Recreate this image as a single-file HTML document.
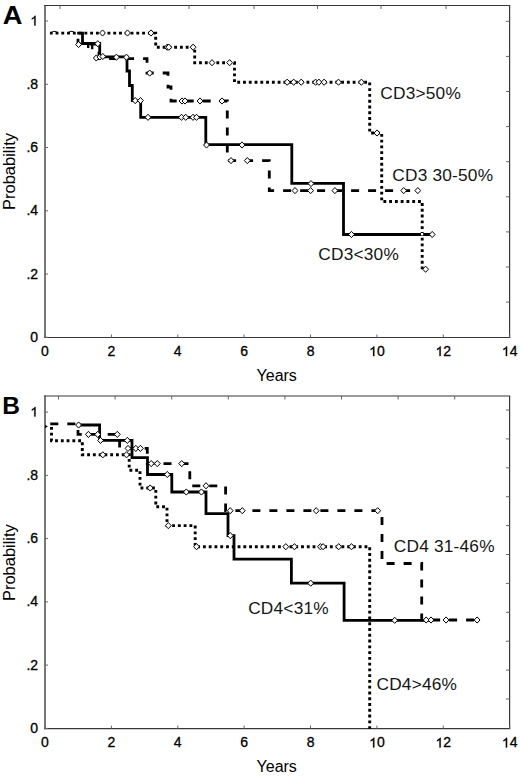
<!DOCTYPE html>
<html><head><meta charset="utf-8"><style>
html,body{margin:0;padding:0;background:#fff;width:520px;height:778px;overflow:hidden}
svg{display:block}
</style></head><body>
<svg width="520" height="778" viewBox="0 0 520 778">
<style>
.ax{fill:none;stroke:#383838;stroke-width:1.2}
.axl{fill:none;stroke:#303030;stroke-width:1.3}
.tk{stroke:#666;stroke-width:1}
.tl{font-family:"Liberation Sans",sans-serif;font-size:14px;fill:#000;stroke:#000;stroke-width:0.3}
.al{font-family:"Liberation Sans",sans-serif;font-size:16px;fill:#000}
.lb{font-family:"Liberation Sans",sans-serif;font-size:17.3px;fill:#151515;letter-spacing:0.2px}
.pl{font-family:"Liberation Sans",sans-serif;font-size:26px;font-weight:bold;fill:#000}
.sol{fill:none;stroke:#000;stroke-width:2.8;stroke-linejoin:miter;stroke-linecap:square}
.dsh{fill:none;stroke:#000;stroke-width:2.8;stroke-dasharray:8 9}
.dot{fill:none;stroke:#000;stroke-width:2.9;stroke-dasharray:2.85 2.92}
.cir path{fill:#fff;stroke:#000;stroke-width:1}
</style>
<rect width="520" height="778" fill="#fff"/>
<line x1="45" y1="4.9" x2="45" y2="338.1" class="axl"/><line x1="44.4" y1="5.5" x2="510.2" y2="5.5" class="ax"/><line x1="44.4" y1="337.5" x2="510.2" y2="337.5" class="ax"/><line x1="509.6" y1="5.5" x2="509.6" y2="337.5" class="ax"/><line x1="45" y1="337.3" x2="48" y2="337.3" class="tk"/><line x1="45" y1="274.0" x2="48" y2="274.0" class="tk"/><line x1="45" y1="210.8" x2="48" y2="210.8" class="tk"/><line x1="45" y1="147.5" x2="48" y2="147.5" class="tk"/><line x1="45" y1="84.3" x2="48" y2="84.3" class="tk"/><line x1="45" y1="21.0" x2="48" y2="21.0" class="tk"/><line x1="45.0" y1="337.5" x2="45.0" y2="334.5" class="tk"/><line x1="111.4" y1="337.5" x2="111.4" y2="334.5" class="tk"/><line x1="177.8" y1="337.5" x2="177.8" y2="334.5" class="tk"/><line x1="244.1" y1="337.5" x2="244.1" y2="334.5" class="tk"/><line x1="310.5" y1="337.5" x2="310.5" y2="334.5" class="tk"/><line x1="376.9" y1="337.5" x2="376.9" y2="334.5" class="tk"/><line x1="443.3" y1="337.5" x2="443.3" y2="334.5" class="tk"/><line x1="509.7" y1="337.5" x2="509.7" y2="334.5" class="tk"/><line x1="60.0" y1="5.5" x2="60.0" y2="9.0" class="tk"/><line x1="125.0" y1="5.5" x2="125.0" y2="9.0" class="tk"/><line x1="189.0" y1="5.5" x2="189.0" y2="9.0" class="tk"/><line x1="254.0" y1="5.5" x2="254.0" y2="9.0" class="tk"/><line x1="317.5" y1="5.5" x2="317.5" y2="9.0" class="tk"/><line x1="381.0" y1="5.5" x2="381.0" y2="9.0" class="tk"/><line x1="446.0" y1="5.5" x2="446.0" y2="9.0" class="tk"/><line x1="509.5" y1="21.3" x2="506" y2="21.3" class="tk"/><line x1="509.5" y1="56.4" x2="506" y2="56.4" class="tk"/><line x1="509.5" y1="91.5" x2="506" y2="91.5" class="tk"/><line x1="509.5" y1="126.6" x2="506" y2="126.6" class="tk"/><line x1="509.5" y1="161.7" x2="506" y2="161.7" class="tk"/><line x1="509.5" y1="196.8" x2="506" y2="196.8" class="tk"/><line x1="509.5" y1="231.9" x2="506" y2="231.9" class="tk"/><line x1="509.5" y1="267.0" x2="506" y2="267.0" class="tk"/><line x1="509.5" y1="302.1" x2="506" y2="302.1" class="tk"/>
<line x1="45" y1="395.4" x2="45" y2="729.2" class="axl"/><line x1="44.4" y1="396.0" x2="510.2" y2="396.0" class="ax"/><line x1="44.4" y1="728.6" x2="510.2" y2="728.6" class="ax"/><line x1="509.6" y1="396.0" x2="509.6" y2="728.6" class="ax"/><line x1="45" y1="728.4" x2="48" y2="728.4" class="tk"/><line x1="45" y1="665.1" x2="48" y2="665.1" class="tk"/><line x1="45" y1="601.9" x2="48" y2="601.9" class="tk"/><line x1="45" y1="538.6" x2="48" y2="538.6" class="tk"/><line x1="45" y1="475.4" x2="48" y2="475.4" class="tk"/><line x1="45" y1="412.1" x2="48" y2="412.1" class="tk"/><line x1="45.0" y1="728.6" x2="45.0" y2="725.6" class="tk"/><line x1="111.4" y1="728.6" x2="111.4" y2="725.6" class="tk"/><line x1="177.8" y1="728.6" x2="177.8" y2="725.6" class="tk"/><line x1="244.1" y1="728.6" x2="244.1" y2="725.6" class="tk"/><line x1="310.5" y1="728.6" x2="310.5" y2="725.6" class="tk"/><line x1="376.9" y1="728.6" x2="376.9" y2="725.6" class="tk"/><line x1="443.3" y1="728.6" x2="443.3" y2="725.6" class="tk"/><line x1="509.7" y1="728.6" x2="509.7" y2="725.6" class="tk"/><line x1="58.5" y1="396.0" x2="58.5" y2="399.5" class="tk"/><line x1="115.1" y1="396.0" x2="115.1" y2="399.5" class="tk"/><line x1="171.7" y1="396.0" x2="171.7" y2="399.5" class="tk"/><line x1="228.3" y1="396.0" x2="228.3" y2="399.5" class="tk"/><line x1="284.9" y1="396.0" x2="284.9" y2="399.5" class="tk"/><line x1="341.5" y1="396.0" x2="341.5" y2="399.5" class="tk"/><line x1="398.1" y1="396.0" x2="398.1" y2="399.5" class="tk"/><line x1="454.7" y1="396.0" x2="454.7" y2="399.5" class="tk"/><line x1="509.5" y1="410.0" x2="506" y2="410.0" class="tk"/><line x1="509.5" y1="438.9" x2="506" y2="438.9" class="tk"/><line x1="509.5" y1="467.8" x2="506" y2="467.8" class="tk"/><line x1="509.5" y1="496.7" x2="506" y2="496.7" class="tk"/><line x1="509.5" y1="525.6" x2="506" y2="525.6" class="tk"/><line x1="509.5" y1="554.5" x2="506" y2="554.5" class="tk"/><line x1="509.5" y1="583.4" x2="506" y2="583.4" class="tk"/><line x1="509.5" y1="612.3" x2="506" y2="612.3" class="tk"/><line x1="509.5" y1="641.2" x2="506" y2="641.2" class="tk"/><line x1="509.5" y1="670.1" x2="506" y2="670.1" class="tk"/><line x1="509.5" y1="699.0" x2="506" y2="699.0" class="tk"/>
<text x="30.31" y="341.80" class="tl">0</text><text x="26.42" y="278.54" class="tl">.2</text><text x="26.42" y="215.28" class="tl">.4</text><text x="26.42" y="152.02" class="tl">.6</text><text x="26.42" y="88.76" class="tl">.8</text><text x="30.31" y="25.50" class="tl"> </text><path d="M763,0L583,0L583,1098Q518,1038 412,979Q306,920 222,890L222,1057Q373,1124 486,1221Q599,1318 646,1409L763,1409Z" stroke="#000" stroke-width="44" transform="translate(30.31,25.50) scale(0.00684,-0.00684)"/><text x="41.11" y="356.10" class="tl">0</text><text x="107.49" y="356.10" class="tl">2</text><text x="173.87" y="356.10" class="tl">4</text><text x="240.25" y="356.10" class="tl">6</text><text x="306.63" y="356.10" class="tl">8</text><text x="369.11" y="356.10" class="tl"> 0</text><path d="M763,0L583,0L583,1098Q518,1038 412,979Q306,920 222,890L222,1057Q373,1124 486,1221Q599,1318 646,1409L763,1409Z" stroke="#000" stroke-width="44" transform="translate(369.11,356.10) scale(0.00684,-0.00684)"/><text x="435.49" y="356.10" class="tl"> 2</text><path d="M763,0L583,0L583,1098Q518,1038 412,979Q306,920 222,890L222,1057Q373,1124 486,1221Q599,1318 646,1409L763,1409Z" stroke="#000" stroke-width="44" transform="translate(435.49,356.10) scale(0.00684,-0.00684)"/><text x="501.87" y="356.10" class="tl"> 4</text><path d="M763,0L583,0L583,1098Q518,1038 412,979Q306,920 222,890L222,1057Q373,1124 486,1221Q599,1318 646,1409L763,1409Z" stroke="#000" stroke-width="44" transform="translate(501.87,356.10) scale(0.00684,-0.00684)"/><text x="276.7" y="380.8" text-anchor="middle" class="al">Years</text><text transform="translate(14.8,171.5) rotate(-90) scale(1.03,1)" x="0" y="0" text-anchor="middle" class="al">Probability</text>
<text x="30.31" y="732.90" class="tl">0</text><text x="26.42" y="669.64" class="tl">.2</text><text x="26.42" y="606.38" class="tl">.4</text><text x="26.42" y="543.12" class="tl">.6</text><text x="26.42" y="479.86" class="tl">.8</text><text x="30.31" y="416.60" class="tl"> </text><path d="M763,0L583,0L583,1098Q518,1038 412,979Q306,920 222,890L222,1057Q373,1124 486,1221Q599,1318 646,1409L763,1409Z" stroke="#000" stroke-width="44" transform="translate(30.31,416.60) scale(0.00684,-0.00684)"/><text x="41.11" y="747.40" class="tl">0</text><text x="107.49" y="747.40" class="tl">2</text><text x="173.87" y="747.40" class="tl">4</text><text x="240.25" y="747.40" class="tl">6</text><text x="306.63" y="747.40" class="tl">8</text><text x="369.11" y="747.40" class="tl"> 0</text><path d="M763,0L583,0L583,1098Q518,1038 412,979Q306,920 222,890L222,1057Q373,1124 486,1221Q599,1318 646,1409L763,1409Z" stroke="#000" stroke-width="44" transform="translate(369.11,747.40) scale(0.00684,-0.00684)"/><text x="435.49" y="747.40" class="tl"> 2</text><path d="M763,0L583,0L583,1098Q518,1038 412,979Q306,920 222,890L222,1057Q373,1124 486,1221Q599,1318 646,1409L763,1409Z" stroke="#000" stroke-width="44" transform="translate(435.49,747.40) scale(0.00684,-0.00684)"/><text x="501.87" y="747.40" class="tl"> 4</text><path d="M763,0L583,0L583,1098Q518,1038 412,979Q306,920 222,890L222,1057Q373,1124 486,1221Q599,1318 646,1409L763,1409Z" stroke="#000" stroke-width="44" transform="translate(501.87,747.40) scale(0.00684,-0.00684)"/><text x="276.7" y="772.1" text-anchor="middle" class="al">Years</text><text transform="translate(14.8,562.6) rotate(-90) scale(1.03,1)" x="0" y="0" text-anchor="middle" class="al">Probability</text>
<text x="0" y="0" class="pl" style="font-size:25.5px" transform="translate(2.8,23.6) scale(1.07,1)">A</text>
<text x="0" y="0" class="pl" style="font-size:24.5px" transform="translate(2.2,413.8) scale(1.0,1)">B</text>
<polyline points="50.0,33.1 155.7,33.1 155.7,47.2 194.7,47.2 194.7,62.7 234.5,62.7 234.5,82.2 369.7,82.2 369.7,133.0 381.7,133.0 381.7,201.5 422.2,201.5 422.2,269.2" class="dot" stroke-dashoffset="0.2"/>
<polyline points="78.0,36.0 78.0,44.0 99.0,44.0 99.0,58.6 147.0,58.6 147.0,73.0 168.0,73.0 168.0,87.0 171.0,87.0 171.0,101.0 227.3,101.0 227.3,160.6 269.3,160.6 269.3,190.6 418.0,190.6" class="dsh" stroke-dashoffset="31.3"/>
<path d="M88.2,44 V48 M92.2,44 V49.2" stroke="#000" stroke-width="2.3" fill="none"/>
<path d="M51.3,32.7 Q54.4,29.9 57.5,32.7 M68.4,32.7 Q71.5,29.9 74.6,32.7" stroke="#000" stroke-width="1.1" fill="none"/>
<polyline points="78.6,33.1 82.5,33.1 82.5,43.5 99.7,43.5 99.7,56.8 127.0,56.8 127.0,71.0 129.5,71.0 129.5,85.5 132.3,85.5 132.3,100.6 140.7,100.6 140.7,117.3 205.8,117.3 205.8,144.7 291.8,144.7 291.8,183.3 343.5,183.3 343.5,234.5 431.5,234.5" class="sol"/>
<rect x="421" y="233" width="2.2" height="2.4" fill="#fff"/>
<g class="cir"><path d="M99.6,33.0L102.5,29.9L105.4,33.0L102.5,36.1Z"/><path d="M124.6,33.0L127.5,29.9L130.4,33.0L127.5,36.1Z"/><path d="M148.1,33.0L151.0,29.9L153.9,33.0L151.0,36.1Z"/><path d="M164.3,47.2L167.2,44.1L170.1,47.2L167.2,50.3Z"/><path d="M165.9,47.2L168.8,44.1L171.7,47.2L168.8,50.3Z"/><path d="M190.2,47.2L193.1,44.1L196.0,47.2L193.1,50.3Z"/><path d="M209.1,62.7L212.0,59.6L214.9,62.7L212.0,65.8Z"/><path d="M226.7,62.7L229.6,59.6L232.5,62.7L229.6,65.8Z"/><path d="M284.3,82.2L287.2,79.1L290.1,82.2L287.2,85.3Z"/><path d="M290.8,82.2L293.7,79.1L296.6,82.2L293.7,85.3Z"/><path d="M298.3,82.2L301.2,79.1L304.1,82.2L301.2,85.3Z"/><path d="M312.7,82.2L315.6,79.1L318.5,82.2L315.6,85.3Z"/><path d="M316.0,82.2L318.9,79.1L321.8,82.2L318.9,85.3Z"/><path d="M321.2,82.2L324.1,79.1L327.0,82.2L324.1,85.3Z"/><path d="M335.6,82.2L338.5,79.1L341.4,82.2L338.5,85.3Z"/><path d="M358.5,82.2L361.4,79.1L364.3,82.2L361.4,85.3Z"/><path d="M374.1,133.0L377.0,129.9L379.9,133.0L377.0,136.1Z"/><path d="M422.7,269.2L425.6,266.1L428.5,269.2L425.6,272.3Z"/><path d="M146.8,73.1L149.7,70.0L152.6,73.1L149.7,76.2Z"/><path d="M179.1,101.0L182.0,97.9L184.9,101.0L182.0,104.1Z"/><path d="M182.1,101.0L185.0,97.9L187.9,101.0L185.0,104.1Z"/><path d="M197.1,101.0L200.0,97.9L202.9,101.0L200.0,104.1Z"/><path d="M219.1,101.0L222.0,97.9L224.9,101.0L222.0,104.1Z"/><path d="M228.1,160.6L231.0,157.5L233.9,160.6L231.0,163.7Z"/><path d="M244.4,160.6L247.3,157.5L250.2,160.6L247.3,163.7Z"/><path d="M292.1,190.6L295.0,187.5L297.9,190.6L295.0,193.7Z"/><path d="M307.7,190.6L310.6,187.5L313.5,190.6L310.6,193.7Z"/><path d="M332.0,190.6L334.9,187.5L337.8,190.6L334.9,193.7Z"/><path d="M400.8,190.6L403.7,187.5L406.6,190.6L403.7,193.7Z"/><path d="M414.9,190.6L417.8,187.5L420.7,190.6L417.8,193.7Z"/><path d="M75.7,44.5L78.6,41.4L81.5,44.5L78.6,47.6Z"/><path d="M94.9,43.7L97.8,40.6L100.7,43.7L97.8,46.8Z"/><path d="M93.4,58.0L96.3,54.9L99.2,58.0L96.3,61.1Z"/><path d="M96.9,57.0L99.8,53.9L102.7,57.0L99.8,60.1Z"/><path d="M99.9,56.5L102.8,53.4L105.7,56.5L102.8,59.6Z"/><path d="M113.5,57.2L116.4,54.1L119.3,57.2L116.4,60.3Z"/><path d="M123.5,57.2L126.4,54.1L129.3,57.2L126.4,60.3Z"/><path d="M132.3,100.6L135.2,97.5L138.1,100.6L135.2,103.7Z"/><path d="M137.6,100.6L140.5,97.5L143.4,100.6L140.5,103.7Z"/><path d="M145.1,117.3L148.0,114.2L150.9,117.3L148.0,120.4Z"/><path d="M178.6,117.3L181.5,114.2L184.4,117.3L181.5,120.4Z"/><path d="M182.8,117.3L185.7,114.2L188.6,117.3L185.7,120.4Z"/><path d="M190.1,117.3L193.0,114.2L195.9,117.3L193.0,120.4Z"/><path d="M193.6,117.3L196.5,114.2L199.4,117.3L196.5,120.4Z"/><path d="M203.6,145.0L206.5,141.9L209.4,145.0L206.5,148.1Z"/><path d="M239.1,145.0L242.0,141.9L244.9,145.0L242.0,148.1Z"/><path d="M308.1,183.6L311.0,180.5L313.9,183.6L311.0,186.7Z"/><path d="M348.6,234.5L351.5,231.4L354.4,234.5L351.5,237.6Z"/><path d="M429.3,234.5L432.2,231.4L435.1,234.5L432.2,237.6Z"/></g>
<polyline points="51.5,424.0 51.5,440.7 82.3,440.7 82.3,454.8 129.2,454.8 129.2,470.2 140.0,470.2 140.0,488.0 155.8,488.0 155.8,506.8 167.0,506.8 167.0,525.6 195.2,525.6 195.2,546.7 369.7,546.7 369.7,728.7" class="dot" stroke-dashoffset="2.8"/>
<polyline points="50.3,423.8 78.0,423.8 78.0,434.4 119.6,434.4 119.6,448.4 147.3,448.4 147.3,463.6 189.8,463.6 189.8,485.8 225.6,485.8 225.6,510.7 382.0,510.7 382.0,563.5 421.7,563.5 421.7,620.0 474.0,620.0" class="dsh"/>
<polyline points="78.6,425.0 99.6,425.0 99.6,440.4 132.0,440.4 132.0,457.6 147.5,457.6 147.5,474.5 171.8,474.5 171.8,492.0 206.0,492.0 206.0,513.7 228.0,513.7 228.0,535.6 234.0,535.6 234.0,559.1 291.4,559.1 291.4,583.2 344.1,583.2 344.1,620.4 430.0,620.4" class="sol"/>
<path d="M45,424.8 L47.8,426.5 L45,428.2 Z" fill="#000"/>
<g class="cir"><path d="M99.9,454.8L102.8,451.7L105.7,454.8L102.8,457.9Z"/><path d="M123.6,454.8L126.5,451.7L129.4,454.8L126.5,457.9Z"/><path d="M147.3,488.0L150.2,484.9L153.1,488.0L150.2,491.1Z"/><path d="M165.4,525.6L168.3,522.5L171.2,525.6L168.3,528.7Z"/><path d="M193.6,546.7L196.5,543.6L199.4,546.7L196.5,549.8Z"/><path d="M282.9,546.7L285.8,543.6L288.7,546.7L285.8,549.8Z"/><path d="M291.5,546.7L294.4,543.6L297.3,546.7L294.4,549.8Z"/><path d="M317.5,546.7L320.4,543.6L323.3,546.7L320.4,549.8Z"/><path d="M320.2,546.7L323.1,543.6L326.0,546.7L323.1,549.8Z"/><path d="M335.8,546.7L338.7,543.6L341.6,546.7L338.7,549.8Z"/><path d="M348.6,546.7L351.5,543.6L354.4,546.7L351.5,549.8Z"/><path d="M85.5,434.4L88.4,431.3L91.3,434.4L88.4,437.5Z"/><path d="M94.8,434.4L97.7,431.3L100.6,434.4L97.7,437.5Z"/><path d="M114.4,434.4L117.3,431.3L120.2,434.4L117.3,437.5Z"/><path d="M125.1,448.4L128.0,445.3L130.9,448.4L128.0,451.5Z"/><path d="M132.9,448.4L135.8,445.3L138.7,448.4L135.8,451.5Z"/><path d="M137.5,448.4L140.4,445.3L143.3,448.4L140.4,451.5Z"/><path d="M148.3,463.6L151.2,460.5L154.1,463.6L151.2,466.7Z"/><path d="M154.4,463.6L157.3,460.5L160.2,463.6L157.3,466.7Z"/><path d="M178.8,463.6L181.7,460.5L184.6,463.6L181.7,466.7Z"/><path d="M203.1,485.8L206.0,482.7L208.9,485.8L206.0,488.9Z"/><path d="M227.3,510.7L230.2,507.6L233.1,510.7L230.2,513.8Z"/><path d="M239.4,510.7L242.3,507.6L245.2,510.7L242.3,513.8Z"/><path d="M313.3,510.7L316.2,507.6L319.1,510.7L316.2,513.8Z"/><path d="M374.8,510.7L377.7,507.6L380.6,510.7L377.7,513.8Z"/><path d="M423.3,620.0L426.2,616.9L429.1,620.0L426.2,623.1Z"/><path d="M428.1,620.0L431.0,616.9L433.9,620.0L431.0,623.1Z"/><path d="M443.1,620.0L446.0,616.9L448.9,620.0L446.0,623.1Z"/><path d="M474.2,620.0L477.1,616.9L480.0,620.0L477.1,623.1Z"/><path d="M75.7,425.0L78.6,421.9L81.5,425.0L78.6,428.1Z"/><path d="M97.6,440.4L100.5,437.3L103.4,440.4L100.5,443.5Z"/><path d="M124.4,440.4L127.3,437.3L130.2,440.4L127.3,443.5Z"/><path d="M164.4,474.5L167.3,471.4L170.2,474.5L167.3,477.6Z"/><path d="M183.4,492.0L186.3,488.9L189.2,492.0L186.3,495.1Z"/><path d="M198.5,492.0L201.4,488.9L204.3,492.0L201.4,495.1Z"/><path d="M227.4,535.6L230.3,532.5L233.2,535.6L230.3,538.7Z"/><path d="M307.8,583.2L310.7,580.1L313.6,583.2L310.7,586.3Z"/><path d="M391.8,620.3L394.7,617.2L397.6,620.3L394.7,623.4Z"/></g>
<text x="380.3" y="98.8" class="lb">CD3&gt;50%</text>
<text x="392.3" y="180.6" class="lb">CD3 30-50%</text>
<text x="318.3" y="259.8" class="lb">CD3&lt;30%</text>
<text x="393.8" y="552.3" class="lb">CD4 31-46%</text>
<text x="248.2" y="614.0" class="lb">CD4&lt;31%</text>
<text x="376.5" y="690.0" class="lb">CD4&gt;46%</text>
</svg>
</body></html>
